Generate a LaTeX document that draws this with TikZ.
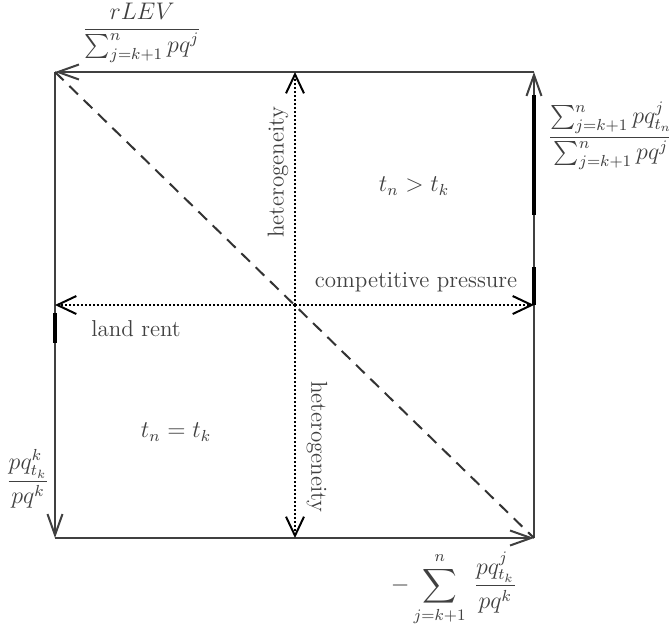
\documentclass[tikz,border=0pt]{standalone}
\usepackage{amsmath}
\usetikzlibrary{arrows.meta}
\begin{document}
\begin{tikzpicture}[x=0.5pt,y=-0.5pt,
  side/.style={draw=black!75,line width=1pt,-{Straight Barb[length=10.5pt,width=7.5pt,line width=1pt]}},
  axisline/.style={draw=black,line width=1.25pt,dash pattern=on 1pt off 1pt,-{Straight Barb[length=9.5pt,width=9pt,line width=1pt]}},
  thickmark/.style={draw=black,line width=2pt},
  lab/.style={text=black!75,font=\fontsize{11.5}{14}\selectfont,inner sep=1pt}]
\useasboundingbox (0,0) rectangle (669,629);
% corners and middle points
\coordinate (tl) at (55,72);
\coordinate (tr) at (534,72);
\coordinate (bl) at (55,538);
\coordinate (br) at (534,538);
\coordinate (c) at (295,305);
\coordinate (ml) at (55,305);
\coordinate (mr) at (534,305);
\coordinate (mt) at (295,72);
\coordinate (mb) at (295,538);
% square
\draw[side] (tr) -- (tl);
\draw[side] (tl) -- (bl);
\draw[side] (bl) -- (br);
\draw[side] (br) -- (tr);
% diagonal
\draw[black!80,line width=1pt,dash pattern=on 6pt off 4pt] (tl) -- (br);
% cross
\draw[axisline] (c) -- (ml);
\draw[axisline] (c) -- (mr);
\draw[axisline] (c) -- (mt);
\draw[axisline] (c) -- (mb);
% thick marks
\coordinate (ra) at (534,95); \coordinate (rb) at (534,215);
\coordinate (rc) at (534,267); \coordinate (rd) at (534,305);
\coordinate (la) at (55,313); \coordinate (lb) at (55,343);
\draw[thickmark] (ra) -- (rb);
\draw[thickmark] (rc) -- (rd);
\draw[thickmark] (la) -- (lb);
% axis values
\node[lab] (toplab) at (142,33) {$\dfrac{rLEV}{\textstyle\sum_{j=k+1}^{n} pq^{j}}$};
\node[lab] (rightlab) at (611,136) {$\dfrac{\textstyle\sum_{j=k+1}^{n} pq^{j}_{t_n}}{\textstyle\sum_{j=k+1}^{n} pq^{j}}$};
\node[lab] (leftlab) at (28,479) {$\dfrac{pq^{k}_{t_k}}{pq^{k}}$};
\node[lab] (botlab) at (454,589) {$\displaystyle -\sum_{j=k+1}^{n}\,\frac{pq^{j}_{t_k}}{pq^{k}}$};
% regions
\node[lab] (upper) at (414,186) {$t_n > t_k$};
\node[lab] (lower) at (176,432) {$t_n = t_k$};
% axis labels
\node[lab] (rent) at (136,329) {land rent};
\node[lab] (press) at (416,282) {competitive pressure};
\node[lab,rotate=90] (hetup) at (278,172) {heterogeneity};
\node[lab,rotate=-90] (hetdown) at (317,447) {heterogeneity};
\end{tikzpicture}
\end{document}
